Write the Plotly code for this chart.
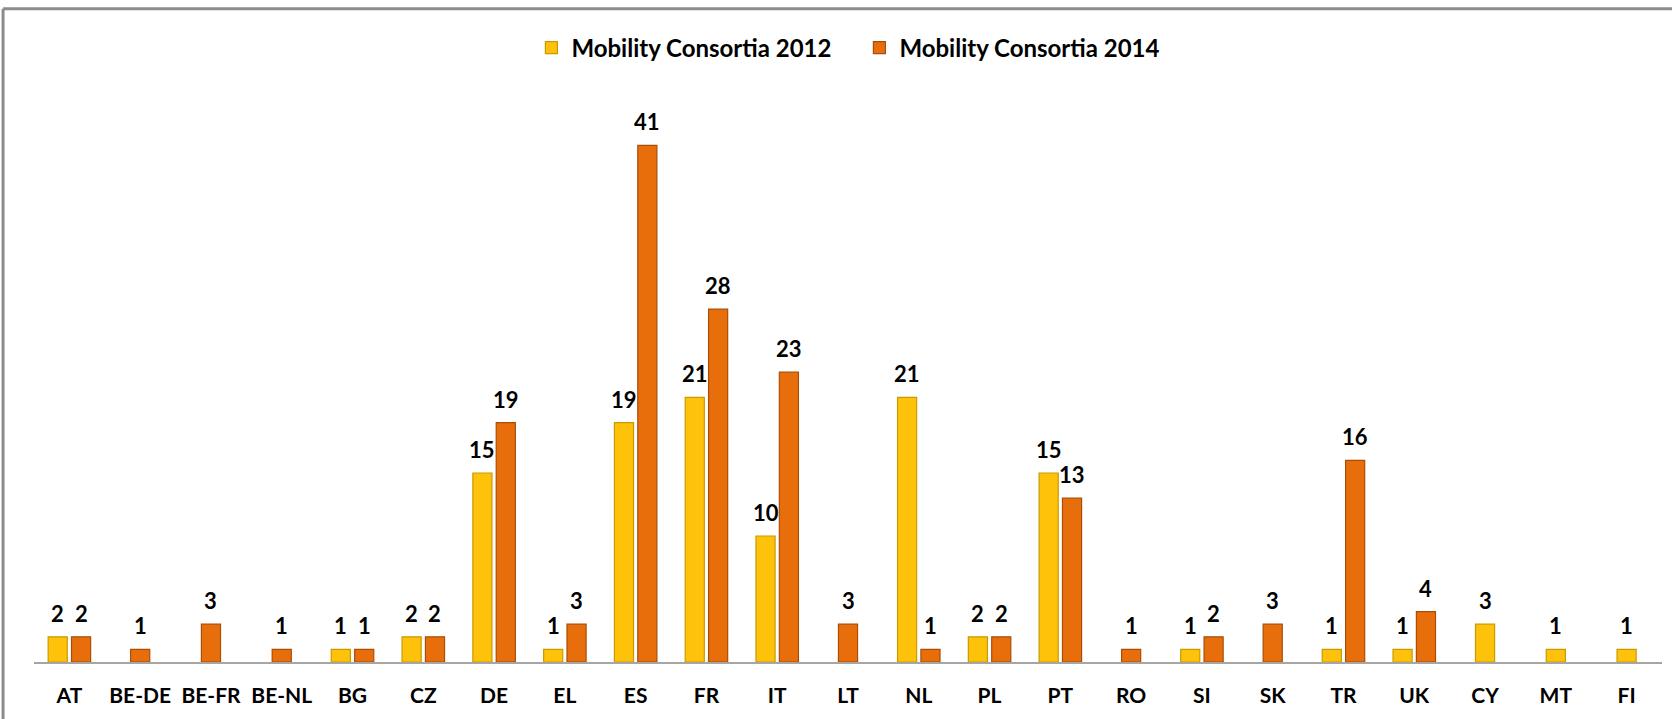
import plotly.graph_objects as go

categories = ["AT", "BE-DE", "BE-FR", "BE-NL", "BG", "CZ", "DE", "EL", "ES", "FR", "IT", "LT",
              "NL", "PL", "PT", "RO", "SI", "SK", "TR", "UK", "CY", "MT", "FI"]
consortia_2012 = [2, None, None, None, 1, 2, 15, 1, 19, 21, 10, None,
                  21, 2, 15, None, 1, None, 1, 1, 3, 1, 1]
consortia_2014 = [2, 1, 3, 1, 1, 2, 19, 3, 41, 28, 23, 3,
                  1, 2, 13, 1, 2, 3, 16, 4, None, None, None]

FONT = "Lato"
W = 0.27
GAP = 0.06

def offsets(first):
    out = []
    for a, b in zip(consortia_2012, consortia_2014):
        if a is not None and b is not None:
            out.append(-W - GAP / 2 if first else GAP / 2)
        else:
            out.append(-W / 2)
    return out

off_2012 = offsets(True)
off_2014 = offsets(False)

fig = go.Figure()
fig.add_trace(go.Bar(
    name="Mobility Consortia 2012", x=categories, y=consortia_2012,
    width=W, offset=off_2012,
    marker=dict(color="#FFC20A", line=dict(color="#C99A00", width=1.2)),
))
fig.add_trace(go.Bar(
    name="Mobility Consortia 2014", x=categories, y=consortia_2014,
    width=W, offset=off_2014,
    marker=dict(color="#E86E0C", line=dict(color="#A84E06", width=1.2)),
))

annotations = []
for vals, offs in ((consortia_2012, off_2012), (consortia_2014, off_2014)):
    for i, (v, o) in enumerate(zip(vals, offs)):
        if v is None:
            continue
        annotations.append(dict(
            x=i + o + W / 2, y=v, xref="x", yref="y", text=str(v), showarrow=False,
            yanchor="bottom", yshift=8,
            font=dict(family=FONT, size=22, color="#000000", weight="bold"),
        ))

fig.update_layout(
    width=1672, height=719,
    barmode="overlay",
    paper_bgcolor="white", plot_bgcolor="white",
    margin=dict(l=34, r=10, t=95, b=57, autoexpand=False),
    font=dict(family=FONT, size=21, color="#000000", weight="bold"),
    legend=dict(orientation="h", x=0.507, xanchor="center", y=1.083, yanchor="middle",
                font=dict(family=FONT, size=24, color="#000000", weight="bold"),
                traceorder="normal", itemwidth=30, entrywidth=283, entrywidthmode="pixels",
                bgcolor="rgba(0,0,0,0)"),
    xaxis=dict(showgrid=False, showline=True, linecolor="#A6A6A6", linewidth=1.5,
               ticks="", ticklabelstandoff=14, automargin=False,
               tickfont=dict(family=FONT, size=21, color="#000000", weight="bold"),
               fixedrange=True),
    yaxis=dict(range=[0, 45], visible=False, showgrid=False, zeroline=False, fixedrange=True),
    annotations=annotations,
    shapes=[
        dict(type="line", xref="paper", yref="paper", x0=-0.019, x1=1.01, y0=1.152, y1=1.152,
             line=dict(color="#8C8C8C", width=3)),
        dict(type="line", xref="paper", yref="paper", x0=-0.019, x1=-0.019, y0=1.152, y1=-0.11,
             line=dict(color="#8C8C8C", width=3)),
    ],
)

fig.write_html("out.html", config={"displayModeBar": False},
               post_script="document.body.style.margin='0';")
